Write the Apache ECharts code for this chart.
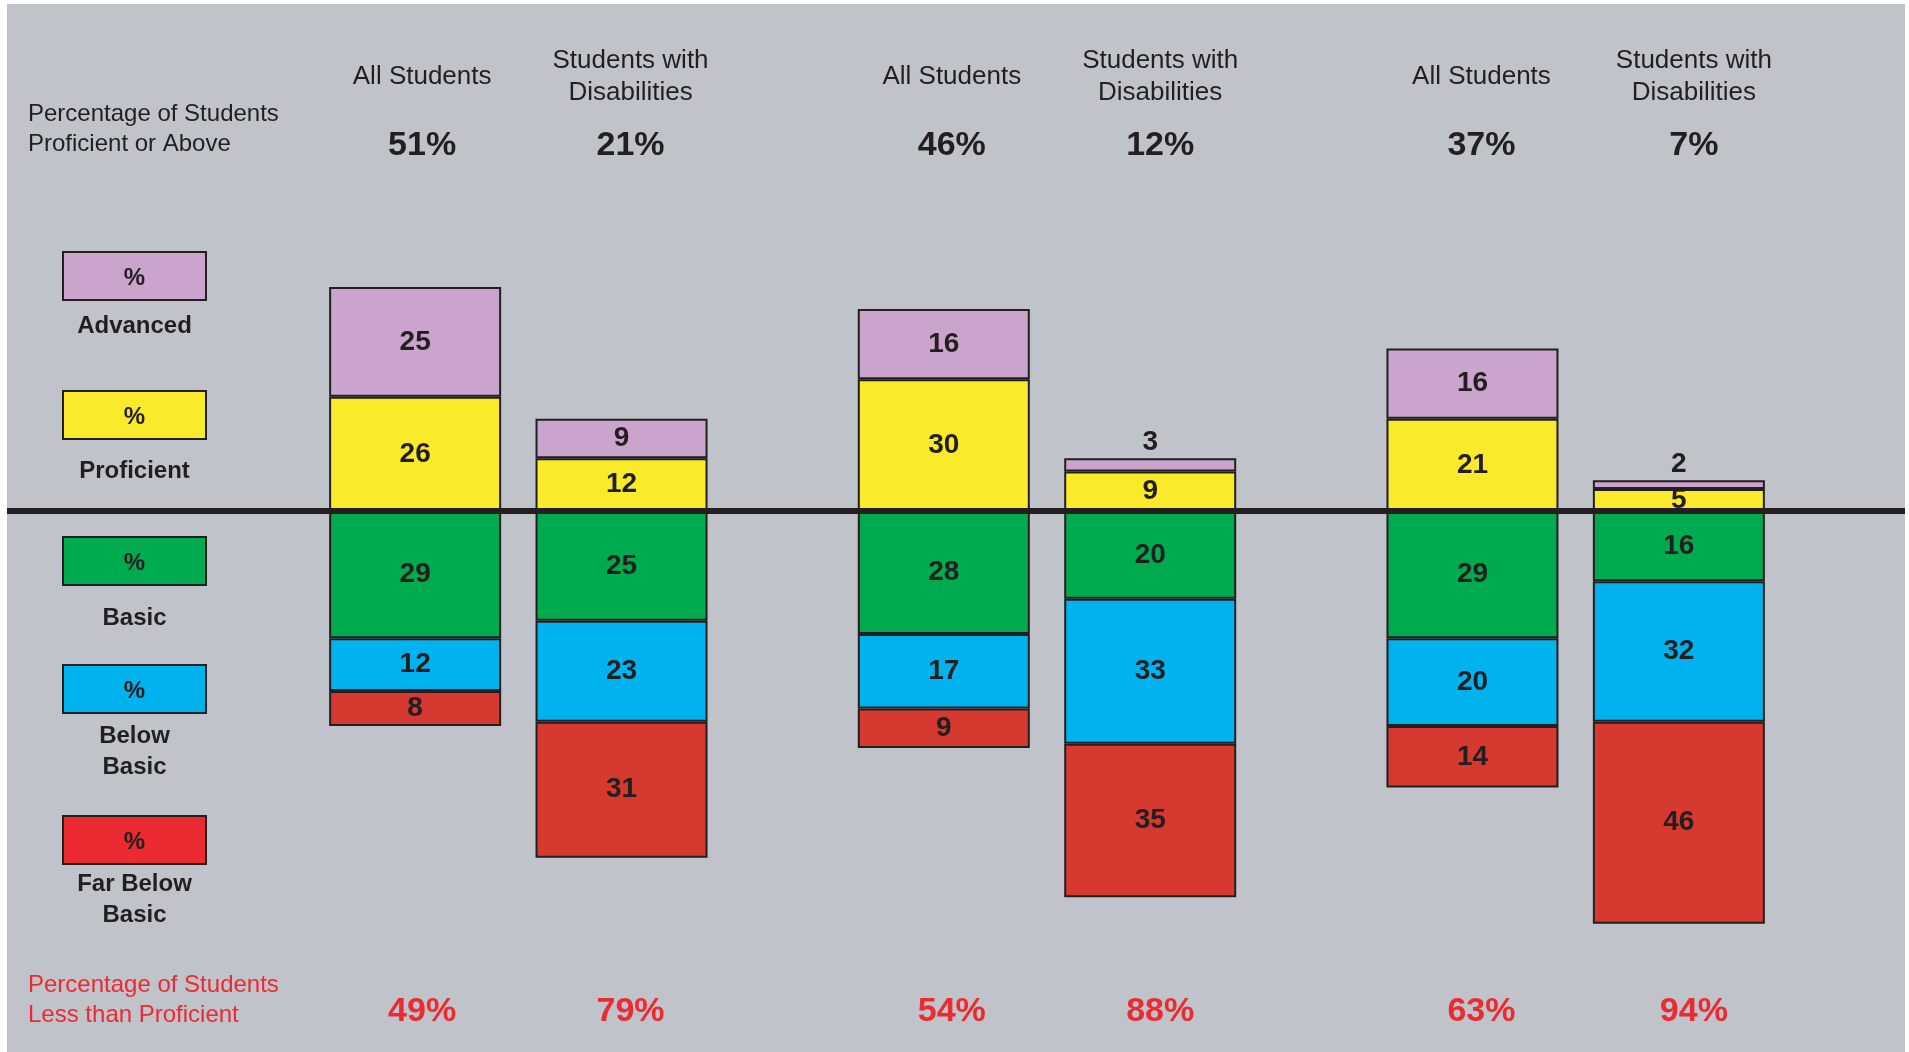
<!DOCTYPE html>
<html><head><meta charset="utf-8">
<script src="https://cdn.jsdelivr.net/npm/echarts@6/dist/echarts.min.js"></script>
<style>
html,body{margin:0;padding:0;background:#fff;width:1909px;height:1052px;overflow:hidden;}
#bg{position:absolute;left:7px;top:4px;width:1898px;height:1048px;background:#c0c3ca;}
#chart{position:absolute;left:0;top:0;width:1909px;height:1052px;}
</style></head><body><div id="bg"></div><div id="chart"></div>
<script>
// ---- data ----
const groups = ['Group 1', 'Group 2', 'Group 3'];
const studentGroups = ['All Students', 'Students with\nDisabilities'];
const levels = ['Advanced', 'Proficient', 'Basic', 'Below\nBasic', 'Far Below\nBasic'];

const allAdvanced   = [25, 16, 16];
const allProficient = [26, 30, 21];
const allBasic      = [29, 28, 29];
const allBelowBasic = [12, 17, 20];
const allFarBelow   = [8, 9, 14];

const swdAdvanced   = [9, 3, 2];
const swdProficient = [12, 9, 5];
const swdBasic      = [25, 20, 16];
const swdBelowBasic = [23, 33, 32];
const swdFarBelow   = [31, 35, 46];

const allProficientOrAbove = [51, 46, 37];
const swdProficientOrAbove = [21, 12, 7];
const allLessThanProficient = [49, 54, 63];
const swdLessThanProficient = [79, 88, 94];

// ---- styles ----
const FONT = '"Liberation Sans", Arial, Helvetica, sans-serif';
const DARK = '#231f20';
const RED_TEXT = '#ec2a31';
const colors = {
  'Advanced': '#cba4cd',
  'Proficient': '#f9eb2b',
  'Basic': '#00aa4e',
  'Below\nBasic': '#00b2ee',
  'Far Below\nBasic': '#d5392f'
};
const legendColors = Object.assign({}, colors, {'Far Below\nBasic': '#ec2a31'});

const BAR_W = 172;
const BAR_GAP = 0.2;

const stacks = [
  {key: 'AS', adv: allAdvanced, prof: allProficient, basic: allBasic, below: allBelowBasic, far: allFarBelow},
  {key: 'SWD', adv: swdAdvanced, prof: swdProficient, basic: swdBasic, below: swdBelowBasic, far: swdFarBelow}
];

function mkSeries(stackKey, level, vals, sign) {
  return {
    type: 'bar',
    name: level,
    stack: stackKey,
    barWidth: BAR_W,
    barGap: (BAR_GAP * 100) + '%',
    data: vals.map(v => {
      const item = {value: sign * v};
      if (v < 4) item.label = {position: 'top', distance: 2};
      return item;
    }),
    itemStyle: {color: colors[level], borderColor: DARK, borderWidth: 2},
    label: {
      show: true, position: 'inside',
      formatter: p => String(Math.abs(p.value)),
      color: DARK, fontFamily: FONT, fontWeight: 'bold', fontSize: 28
    },
    emphasis: {disabled: true}
  };
}

const series = [];
stacks.forEach(s => {
  series.push(mkSeries(s.key, 'Proficient', s.prof, 1));
  series.push(mkSeries(s.key, 'Advanced', s.adv, 1));
  series.push(mkSeries(s.key, 'Basic', s.basic, -1));
  series.push(mkSeries(s.key, 'Below\nBasic', s.below, -1));
  series.push(mkSeries(s.key, 'Far Below\nBasic', s.far, -1));
});

const chart = echarts.init(document.getElementById('chart'), null, {renderer: 'canvas'});
chart.setOption({
  backgroundColor: 'transparent',
  animation: false,
  grid: {left: 254, right: 69, top: 72, bottom: 102},
  xAxis: {type: 'category', data: groups, show: false},
  yAxis: {type: 'value', min: -100, max: 100, show: false, splitLine: {show: false}},
  series: series
});

// ---- annotations computed from axis positions ----
const y0 = chart.convertToPixel({yAxisIndex: 0}, 0);
const offset = (BAR_W + BAR_W * BAR_GAP) / 2;
const SHIFTS = [[7, 9], [8, 10], [9, 15]];
const g = [];

function txt(text, x, y, opts) {
  g.push({
    type: 'text', z: 100,
    style: Object.assign({
      text: text, x: x, y: y,
      fontFamily: FONT, fontSize: 24, fill: DARK,
      align: 'center', verticalAlign: 'middle',
      textAlign: 'center', textVerticalAlign: 'middle'
    }, opts || {})
  });
}

// baseline
g.push({type: 'line', z: 90, shape: {x1: 7, y1: y0, x2: 1905, y2: y0}, style: {stroke: DARK, lineWidth: 6}});

// left titles
txt('Percentage of Students\nProficient or Above', 28, 129, {align: 'left', textAlign: 'left', lineHeight: 30});
txt('Percentage of Students\nLess than Proficient', 28, 1000, {align: 'left', textAlign: 'left', lineHeight: 30, fill: RED_TEXT});

groups.forEach((grp, i) => {
  const cx = chart.convertToPixel({xAxisIndex: 0}, grp);
  const xs = [cx - offset + SHIFTS[i][0], cx + offset + SHIFTS[i][1]];
  // headers
  txt(studentGroups[0], xs[0], 77, {fontSize: 26});
  txt(studentGroups[1], xs[1], 77, {fontSize: 26, lineHeight: 32});
  txt(allProficientOrAbove[i] + '%', xs[0], 146, {fontSize: 34, fontWeight: 'bold'});
  txt(swdProficientOrAbove[i] + '%', xs[1], 146, {fontSize: 34, fontWeight: 'bold'});
  txt(allLessThanProficient[i] + '%', xs[0], 1012, {fontSize: 34, fontWeight: 'bold', fill: RED_TEXT});
  txt(swdLessThanProficient[i] + '%', xs[1], 1012, {fontSize: 34, fontWeight: 'bold', fill: RED_TEXT});
});

// legend (custom boxes)
const legendTops = [252, 391, 537, 665, 816];
const legendLabelY = [326, 471, 618, 752, 900];
levels.forEach((lv, i) => {
  g.push({type: 'rect', z: 50, shape: {x: 63, y: legendTops[i], width: 143, height: 48},
    style: {fill: legendColors[lv], stroke: DARK, lineWidth: 2}});
  txt('%', 134.5, legendTops[i] + 26, {fontSize: 24, fontWeight: 'bold'});
  txt(lv, 134.5, legendLabelY[i], {fontSize: 24, fontWeight: 'bold', lineHeight: 31});
});

chart.setOption({graphic: {elements: g}});
</script></body></html>
